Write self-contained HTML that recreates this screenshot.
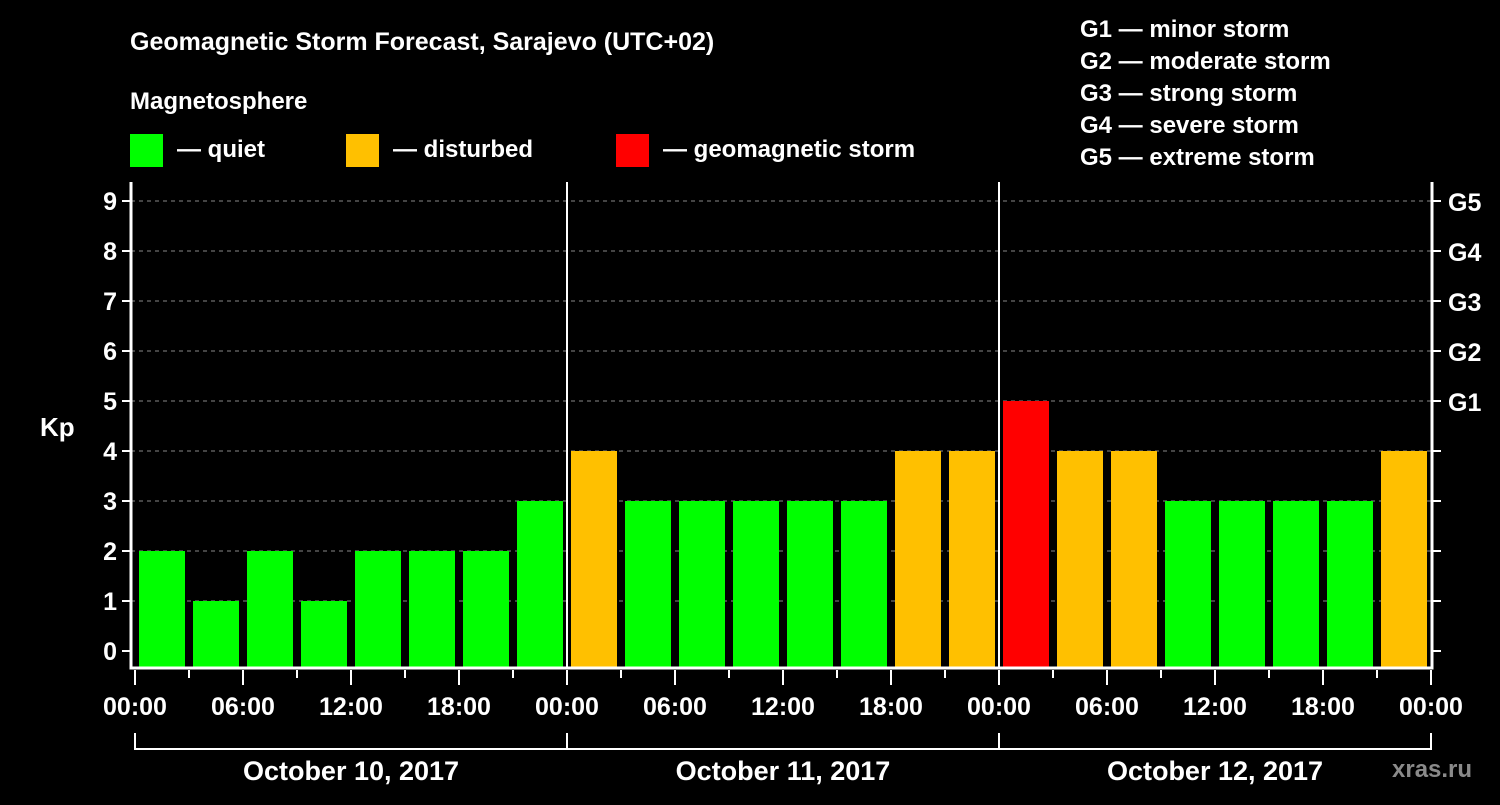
<!DOCTYPE html>
<html><head><meta charset="utf-8"><style>
body{margin:0;background:#000;width:1500px;height:800px;overflow:hidden}
svg text{font-family:"Liberation Sans",Arial,sans-serif;font-weight:bold;fill:#fff}
</style></head><body>
<svg width="1500" height="800">
<g id="static">
<text x="130" y="50" font-size="25">Geomagnetic Storm Forecast, Sarajevo (UTC+02)</text>
<text x="130" y="109" font-size="24">Magnetosphere</text>
<rect x="130" y="134" width="33" height="33" fill="#00ff00"/>
<text x="177" y="157" font-size="24">— quiet</text>
<rect x="346" y="134" width="33" height="33" fill="#ffc000"/>
<text x="393" y="157" font-size="24">— disturbed</text>
<rect x="616" y="134" width="33" height="33" fill="#ff0000"/>
<text x="663" y="157" font-size="24">— geomagnetic storm</text>
<text x="1080" y="37" font-size="24">G1 — minor storm</text>
<text x="1080" y="69" font-size="24">G2 — moderate storm</text>
<text x="1080" y="101" font-size="24">G3 — strong storm</text>
<text x="1080" y="133" font-size="24">G4 — severe storm</text>
<text x="1080" y="165" font-size="24">G5 — extreme storm</text>
<text x="40" y="436" font-size="26">Kp</text>
<text x="1392" y="777" font-size="24" fill="#888" style="fill:#8a8a8a">xras.ru</text>
</g>
<g id="plot"></g>
</svg>
<script>
const kpValues=[2,2,1,2,1,2,2,2,3,4,3,3,3,3,3,4,4,5,4,4,3,3,3,3,4];
const yTicks=[0,1,2,3,4,5,6,7,8,9];
const gLabels=["G1","G2","G3","G4","G5"];
const gLevels=[5,6,7,8,9];
const xTickLabels=["00:00","06:00","12:00","18:00","00:00","06:00","12:00","18:00","00:00","06:00","12:00","18:00","00:00"];
const dayLabels=["October 10, 2017","October 11, 2017","October 12, 2017"];
const firstBarHour=-1.5; // bar centers in local hours from start
const NS="http://www.w3.org/2000/svg";
const g=document.getElementById('plot');
const L=131,R=1432,T=182,B=668,X0=135,PX_H=18;
const xs=h=>X0+h*PX_H;
const ys=v=>651-v*50;
function mk(t,a,txt){const e=document.createElementNS(NS,t);for(const k in a)e.setAttribute(k,a[k]);if(txt!==undefined)e.textContent=txt;g.appendChild(e);return e;}
// grid
yTicks.forEach(v=>{if(v>0){const e=mk('line',{x1:L,x2:R,y1:ys(v),y2:ys(v),stroke:'#888','stroke-dasharray':'4,4','stroke-width':1});

}});
// clip
const cp=mk('clipPath',{id:'pc'});const cr=document.createElementNS(NS,'rect');cr.setAttribute('x',L+4);cr.setAttribute('y',T);cr.setAttribute('width',R-L-8);cr.setAttribute('height',B-T);cp.appendChild(cr);
const bg=mk('g',{'clip-path':'url(#pc)'});
kpValues.forEach((v,i)=>{const c=firstBarHour+i*3;const col=v>=5?'#ff0000':v>=4?'#ffc000':'#00ff00';
const r=document.createElementNS(NS,'rect');r.setAttribute('x',xs(c)-23);r.setAttribute('width',46);r.setAttribute('y',ys(v));r.setAttribute('height',B-ys(v));r.setAttribute('fill',col);


bg.appendChild(r);});
// day separators
[1,2].forEach(d=>{const e=mk('line',{x1:xs(d*24),x2:xs(d*24),y1:T,y2:B,stroke:'#fff','stroke-width':2});

});
// axes
const ax=mk('path',{d:`M${L},${T}V${B}H${R}V${T}`,stroke:'#fff','stroke-width':3,fill:'none'});


yTicks.forEach(v=>{mk('line',{x1:L-9,x2:L,y1:ys(v),y2:ys(v),stroke:'#fff','stroke-width':2});mk('line',{x1:R,x2:R+9,y1:ys(v),y2:ys(v),stroke:'#fff','stroke-width':2});
const t=mk('text',{x:L-14,y:ys(v)+9,'font-size':25,'text-anchor':'end'},String(v));

});
gLevels.forEach((lv,i)=>{const t=mk('text',{x:1448,y:ys(lv)+10,'font-size':25},gLabels[i]);

});
for(let h=0;h<=72;h+=3){const maj=h%6===0;mk('line',{x1:xs(h),x2:xs(h),y1:B+2,y2:B+(maj?17:10),stroke:'#fff','stroke-width':2});}
xTickLabels.forEach((s,i)=>{const t=mk('text',{x:xs(i*6),y:715,'font-size':25,'text-anchor':'middle'},s);

});
const br=mk('path',{d:`M${xs(0)},733V749H${xs(72)}V733`,stroke:'#fff','stroke-width':2,fill:'none'});


dayLabels.forEach((s,i)=>{mk('line',{x1:xs(i*24),x2:xs(i*24),y1:733,y2:749,stroke:'#fff','stroke-width':2});
const t=mk('text',{x:xs(i*24+12),y:780,'font-size':27,'text-anchor':'middle'},s);

});
</script>
</body></html>
